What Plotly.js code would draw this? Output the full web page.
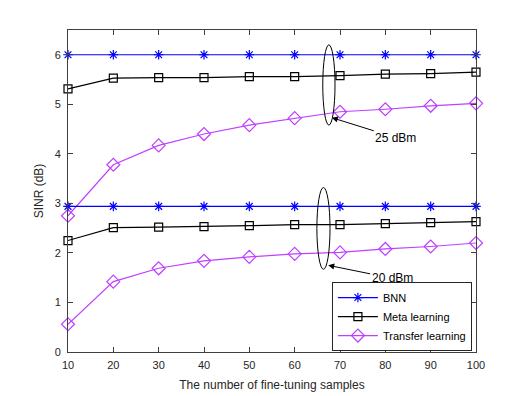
<!DOCTYPE html>
<html>
<head>
<meta charset="utf-8">
<script src="https://cdn.plot.ly/plotly-3.0.1.min.js"></script>
<style>
  body { margin: 0; background: #fff; }
  #plot { width: 526px; height: 396px; }
</style>
</head>
<body>
<div id="plot"></div>
<script>
// fine-tuning sample counts
let samples = [10, 20, 30, 40, 50, 60, 70, 80, 90, 100];

// 25 dBm
let bnn25 = [6, 6, 6, 6, 6, 6, 6, 6, 6, 6];
let meta25 = [5.31, 5.53, 5.54, 5.54, 5.56, 5.56, 5.58, 5.61, 5.62, 5.65];
let transfer25 = [2.75, 3.78, 4.17, 4.40, 4.58, 4.72, 4.85, 4.90, 4.97, 5.02];

// 20 dBm
let bnn20 = [2.94, 2.94, 2.94, 2.94, 2.94, 2.94, 2.94, 2.94, 2.94, 2.94];
let meta20 = [2.25, 2.51, 2.52, 2.53, 2.55, 2.57, 2.57, 2.59, 2.61, 2.63];
let transfer20 = [0.56, 1.42, 1.69, 1.84, 1.92, 1.98, 2.01, 2.08, 2.13, 2.20];

let seriesNames = ['BNN', 'Meta learning', 'Transfer learning'];
let powerLabels = ['25 dBm', '20 dBm'];

let plot = document.getElementById('plot');

const styles = [
    {color: '#0000ff', symbol: 'asterisk-open', size: 8},
    {color: '#000000', symbol: 'square-open', size: 8},
    {color: '#bf40ff', symbol: 'diamond-open', size: 10}
];

const makeTrace = (y, i, show) => ({
    x: samples,
    y: y,
    mode: 'lines+markers',
    name: seriesNames[i],
    legendgroup: seriesNames[i],
    showlegend: show,
    cliponaxis: false,
    line: {color: styles[i].color, width: 1.2},
    marker: {symbol: styles[i].symbol, size: styles[i].size, color: styles[i].color,
             line: {color: styles[i].color, width: 1.2}}
});

let traces = [
    makeTrace(bnn25, 0, true),
    makeTrace(meta25, 1, true),
    makeTrace(transfer25, 2, true),
    makeTrace(bnn20, 0, false),
    makeTrace(meta20, 1, false),
    makeTrace(transfer20, 2, false)
];

let axisStyle = {
    showgrid: false,
    zeroline: false,
    showline: true,
    linecolor: '#404040',
    linewidth: 1,
    mirror: 'ticks',
    ticks: 'inside',
    ticklen: 5,
    tickcolor: '#404040',
    tickfont: {size: 11, color: '#262626'}
};

let layout = {
    width: 526,
    height: 396,
    margin: {l: 68, r: 50, t: 30, b: 44},
    paper_bgcolor: '#ffffff',
    plot_bgcolor: '#ffffff',
    font: {family: 'Liberation Sans, Arial, sans-serif', color: '#262626'},
    xaxis: Object.assign({}, axisStyle, {
        range: [10, 100],
        tickvals: samples,
        ticklabelstandoff: 3,
        title: {text: 'The number of fine-tuning samples', font: {size: 12}, standoff: 10}
    }),
    yaxis: Object.assign({}, axisStyle, {
        range: [0, 6.5],
        tickvals: [0, 1, 2, 3, 4, 5, 6],
        ticklabelstandoff: 4,
        title: {text: 'SINR (dB)', font: {size: 12}, standoff: 8}
    }),
    legend: {
        x: 0.99, y: 0.003, xanchor: 'right', yanchor: 'bottom',
        bgcolor: '#ffffff', bordercolor: '#262626', borderwidth: 1,
        font: {size: 11, color: '#000000'},
        tracegroupgap: 0, itemwidth: 40
    },
    shapes: [
        {type: 'circle', xref: 'x', yref: 'y', x0: 66.2, x1: 68.9, y0: 4.58, y1: 6.2,
         line: {color: '#000000', width: 1}},
        {type: 'circle', xref: 'x', yref: 'y', x0: 64.9, x1: 67.8, y0: 1.67, y1: 3.32,
         line: {color: '#000000', width: 1}}
    ],
    annotations: [
        {x: 68.2, y: 4.73, text: powerLabels[0], showarrow: true, arrowhead: 2, arrowsize: 1.2,
         arrowwidth: 1, arrowcolor: '#000000', ax: 64, ay: 20, font: {size: 12, color: '#000000'}},
        {x: 67.4, y: 1.75, text: powerLabels[1], showarrow: true, arrowhead: 2, arrowsize: 1.2,
         arrowwidth: 1, arrowcolor: '#000000', ax: 64, ay: 13, font: {size: 12, color: '#000000'}}
    ]
};

Plotly.newPlot(plot, traces, layout, {displayModeBar: false, staticPlot: true});
</script>
</body>
</html>
